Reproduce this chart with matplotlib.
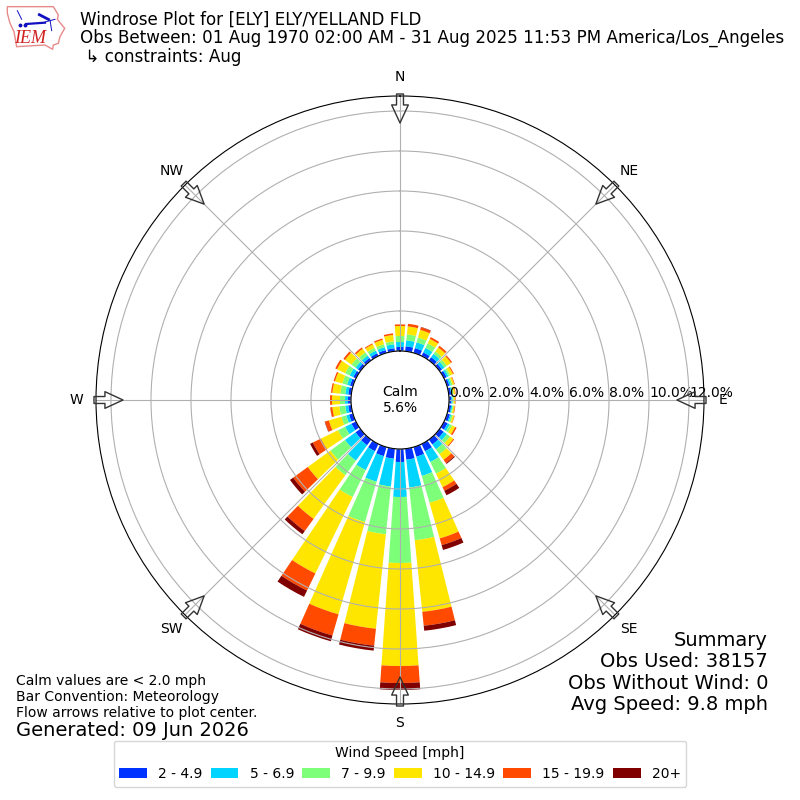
import numpy as np
import matplotlib
matplotlib.use('Agg')
import matplotlib.pyplot as plt
from matplotlib.patches import Polygon

# directions in degrees, percent of obs per speed bin
directions = np.arange(10, 370, 10)
speed_labels = ['2 - 4.9', '5 - 6.9', '7 - 9.9', '10 - 14.9', '15 - 19.9', '20+']
colors = ['#0033ff', '#00d4ff', '#7dff7a', '#ffe600', '#ff4a00', '#800000']

bin_2_5 = [.25, .25, .20, .20, .15, .15, .12, .12, .12, .12, .15, .20, .25, .30, .40, .50, .55, .65,
           .50, .47, .40, .35, .30, .25, .20, .15, .15, .15, .15, .15, .15, .15, .15, .15, .15, .20]
bin_5_7 = [.30, .30, .25, .20, .15, .10, .08, .06, .06, .06, .07, .12, .20, .30, .60, 1.0, 1.4, 1.75,
           1.4, 1.33, 1.05, .95, .65, .35, .15, .15, .15, .15, .15, .20, .15, .15, .15, .15, .20, .25]
bin_7_10 = [.30, .25, .25, .15, .15, .10, .08, .06, .05, .05, .08, .13, .20, .30, .65, 1.4, 2.65, 3.3,
            2.4, 2.1, 1.5, .90, .90, .40, .25, .30, .25, .25, .25, .25, .25, .20, .15, .15, .15, .30]
bin_10_15 = [.40, .40, .25, .25, .25, .15, .09, .08, .07, .07, .08, .17, .20, .35, .75, 1.85, 3.6, 5.15,
             4.75, 4.8, 4.25, 2.7, 1.4, .95, .65, .35, .40, .40, .38, .45, .40, .22, .20, .23, .32, .50]
bin_15_20 = [.13, .13, .10, .10, .07, .05, .03, .03, .03, .03, .02, .08, .05, .20, .20, .35, .70, .85,
             .85, 1.1, .95, .75, .90, .45, .20, .10, .10, .07, .07, .10, .10, .08, .05, .07, .08, .08]
bin_20 = [0, .02, 0, 0, 0, 0, 0, 0, 0, 0, 0, 0, 0, .05, .25, .25, .25, .35,
          .25, .30, .35, .20, .20, .15, .02, .01, 0, 0, 0, 0, 0, 0, 0, 0, 0, 0]
all_bins = [bin_2_5, bin_5_7, bin_7_10, bin_10_15, bin_15_20, bin_20]

r_ticks = [0, 2, 4, 6, 8, 10, 12]
compass = ['N', 'NE', 'E', 'SE', 'S', 'SW', 'W', 'NW']
compass_deg = [0, 45, 90, 135, 180, 225, 270, 315]

title = ('Windrose Plot for [ELY] ELY/YELLAND FLD\n'
         'Obs Between: 01 Aug 1970 02:00 AM - 31 Aug 2025 11:53 PM America/Los_Angeles\n'
         ' \u21b3 constraints: Aug')
summary = 'Summary\nObs Used: 38157\nObs Without Wind: 0\nAvg Speed: 9.8 mph'
notes = 'Calm values are < 2.0 mph\nBar Convention: Meteorology\nFlow arrows relative to plot center.'

fig = plt.figure(figsize=(8, 8), dpi=100)
ax = fig.add_axes([0.12, 0.12, 0.76, 0.76], projection='polar')
ax.set_theta_zero_location('N')
ax.set_theta_direction(-1)

bottom = np.zeros(len(directions))
for vals, col, lab in zip(all_bins, colors, speed_labels):
    vals = np.array(vals)
    ax.bar(np.deg2rad(directions), vals, width=np.deg2rad(8), bottom=bottom, color=col, label=lab)
    bottom += vals

ax.set_rorigin(-2.45)
ax.set_ylim(0, 12.75)
ax.set_rgrids(r_ticks, ['%.1f%%' % v for v in r_ticks])
ax.set_rlabel_position(90)
ax.set_thetagrids(compass_deg, compass)
ax.tick_params(axis='x', pad=3.5)
ax.grid(True)

# flow arrows, pointing at the center
for deg in compass_deg:
    ax.annotate('', xy=(np.deg2rad(deg), 11.4), xytext=(np.deg2rad(deg), 12.85),
                arrowprops=dict(facecolor='none', edgecolor='#333333', width=5, headwidth=12,
                                headlength=13, shrink=0, lw=1), annotation_clip=False)

ax.text(0.5, 0.5, 'Calm\n5.6%', transform=ax.transAxes, ha='center', va='center', fontsize=10)

fig.text(0.1, 0.987, title, va='top', ha='left', fontsize=12.05, linespacing=1.05)
fig.text(0.96, 0.107, summary, ha='right', va='bottom', fontsize=14, linespacing=1.17)
fig.text(0.02, 0.1, notes, ha='left', va='bottom', fontsize=10, linespacing=1.17)
fig.text(0.02, 0.0875, 'Generated: 09 Jun 2026', ha='left', va='center', fontsize=14)

fig.legend(*ax.get_legend_handles_labels(), loc='lower center', bbox_to_anchor=(0.5, 0.008),
           ncol=6, title='Wind Speed [mph]', fontsize=10, columnspacing=0.6)

# logo, drawn on a small overlay with its own coordinates
logo = fig.add_axes([0, 1 - 80 / 800, 240 / 800, 80 / 800])
logo.set_xlim(0, 720)
logo.set_ylim(240, 0)
logo.axis('off')
outline = [(22, 20), (160, 20), (175, 45), (172, 58), (194, 85), (180, 110), (175, 130), (160, 135),
           (158, 148), (135, 135), (50, 140), (42, 95), (30, 70), (22, 40)]
logo.add_patch(Polygon(outline, closed=True, fill=False, edgecolor='#e88a8a', lw=1))
logo.plot([135, 165], [66, 58], color='#1010c0', lw=0.7)
logo.plot([78, 135], [72, 68], color='#1010c0', lw=1.6)
logo.plot([118, 145], [44, 58], color='#1010c0', lw=2)
logo.plot([52, 65], [32, 58], color='#1010c0', lw=0.7)
logo.plot([150, 155], [60, 92], color='#1010c0', lw=0.7)
logo.plot([60, 76], [74, 74], color='#1010c0', lw=0, marker='o', ms=1.8)
logo.text(90, 115, 'IEM', color='#d02020', fontsize=13, family='Liberation Serif', style='italic',
          ha='center', va='center')

fig.savefig('out.png', dpi=100)
